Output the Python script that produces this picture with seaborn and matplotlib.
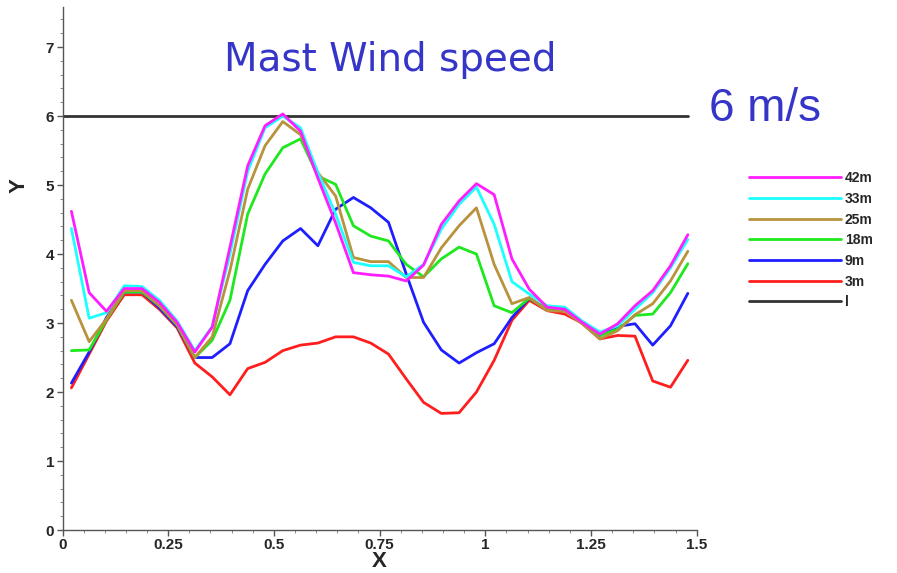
import numpy as np
import pandas as pd
import matplotlib
matplotlib.use("Agg")
import matplotlib.pyplot as plt
from matplotlib.ticker import MultipleLocator
import seaborn as sns

# Sample positions along the mast transect
x_pos = [0.021, 0.063, 0.104, 0.146, 0.188, 0.229, 0.271, 0.313, 0.354, 0.396,
         0.438, 0.479, 0.521, 0.563, 0.604, 0.646, 0.688, 0.729, 0.771, 0.813,
         0.854, 0.896, 0.938, 0.979, 1.021, 1.063, 1.104, 1.146, 1.188, 1.229,
         1.271, 1.313, 1.354, 1.396, 1.438, 1.479]

# Wind speed at each mast height
h42 = [4.62, 3.44, 3.17, 3.50, 3.50, 3.30, 3.01, 2.58, 2.94, 4.10, 5.28, 5.86,
       6.03, 5.78, 5.10, 4.45, 3.73, 3.70, 3.68, 3.61, 3.84, 4.43, 4.77, 5.02,
       4.86, 3.93, 3.49, 3.23, 3.20, 3.01, 2.84, 2.99, 3.25, 3.47, 3.83, 4.28]
h33 = [4.37, 3.07, 3.15, 3.54, 3.53, 3.33, 3.03, 2.60, 2.95, 4.00, 5.20, 5.83,
       6.00, 5.83, 5.18, 4.58, 3.88, 3.83, 3.83, 3.67, 3.85, 4.36, 4.72, 4.97,
       4.43, 3.60, 3.42, 3.25, 3.23, 3.03, 2.87, 2.96, 3.20, 3.44, 3.80, 4.21]
h25 = [3.33, 2.73, 3.06, 3.47, 3.47, 3.25, 2.98, 2.50, 2.80, 3.76, 4.94, 5.57,
       5.92, 5.73, 5.18, 4.84, 3.95, 3.89, 3.89, 3.66, 3.66, 4.09, 4.41, 4.67,
       3.85, 3.28, 3.37, 3.18, 3.17, 2.99, 2.77, 2.89, 3.12, 3.28, 3.61, 4.04]
h18 = [2.60, 2.61, 3.05, 3.45, 3.45, 3.25, 2.97, 2.50, 2.75, 3.33, 4.58, 5.16,
       5.54, 5.67, 5.13, 5.01, 4.41, 4.26, 4.19, 3.85, 3.67, 3.93, 4.10, 4.00,
       3.25, 3.15, 3.36, 3.20, 3.19, 3.01, 2.82, 2.91, 3.11, 3.13, 3.44, 3.86]
h9 = [2.13, 2.58, 3.08, 3.45, 3.45, 3.22, 2.95, 2.50, 2.50, 2.70, 3.47, 3.85,
      4.19, 4.37, 4.12, 4.65, 4.82, 4.67, 4.46, 3.71, 3.01, 2.61, 2.42, 2.57,
      2.70, 3.08, 3.36, 3.20, 3.19, 3.00, 2.82, 2.95, 2.99, 2.68, 2.96, 3.43]
h3 = [2.06, 2.55, 3.03, 3.41, 3.41, 3.20, 2.93, 2.42, 2.22, 1.96, 2.34, 2.43,
      2.60, 2.68, 2.71, 2.80, 2.80, 2.71, 2.55, 2.19, 1.85, 1.69, 1.70, 2.00,
      2.46, 3.04, 3.33, 3.18, 3.13, 3.00, 2.77, 2.82, 2.81, 2.16, 2.07, 2.46]

# Reference level line
ref_x = [0.0, 1.479]
ref_y = [6.0, 6.0]

labels = ["42m", "33m", "25m", "18m", "9m", "3m", "l"]
colors = ["#ff1cff", "#1cffff", "#b8923c", "#1ee81e", "#1e1eff", "#ff1e1e", "#333333"]

frames = []
for lab, vals in zip(labels[:-1], [h42, h33, h25, h18, h9, h3]):
    frames.append(pd.DataFrame({"X": x_pos, "Y": vals, "series": lab}))
frames.append(pd.DataFrame({"X": ref_x, "Y": ref_y, "series": "l"}))
df = pd.concat(frames, ignore_index=True)

sns.set_theme(style="white")
plt.rcParams["font.family"] = ["Liberation Sans Narrow", "Liberation Sans", "DejaVu Sans"]

fig = plt.figure(figsize=(8.97, 5.73), dpi=100)
ax = fig.add_axes([0.0697, 0.075, 0.707, 0.9127])

palette = dict(zip(labels, colors))
# draw lower levels first so the upper ones sit on top
for lab in ["l", "3m", "9m", "18m", "25m", "33m", "42m"]:
    sub = df[df["series"] == lab]
    sns.lineplot(data=sub, x="X", y="Y", color=palette[lab], lw=2.0,
                 sort=False, estimator=None, ax=ax, label=lab)

h, l = ax.get_legend_handles_labels()
lookup = dict(zip(l, h))
ax.legend([lookup[k] for k in labels], labels, loc="upper left",
          bbox_to_anchor=(0.821, 0.723), bbox_transform=fig.transFigure,
          frameon=False, handlelength=6.6, handletextpad=0.3,
          labelspacing=0.48, prop={"weight": "bold", "size": 10})

ax.set_xlim(0, 1.5)
ax.set_ylim(0, 7.58)
ax.xaxis.set_major_locator(MultipleLocator(0.25))
ax.yaxis.set_major_locator(MultipleLocator(1))
ax.yaxis.set_minor_locator(MultipleLocator(0.2))
ax.xaxis.set_minor_locator(MultipleLocator(0.05))
ax.xaxis.set_major_formatter(plt.FuncFormatter(lambda v, p: f"{v:g}"))

for s in ["top", "right"]:
    ax.spines[s].set_visible(False)
for s in ["left", "bottom"]:
    ax.spines[s].set_color("#555555")
    ax.spines[s].set_linewidth(1.0)

ax.tick_params(axis="both", which="major", direction="out", length=4, width=1,
               color="#555555", labelsize=11, pad=2, bottom=True, left=True)
ax.tick_params(axis="both", which="minor", direction="out", length=2, width=0.6,
               color="#777777", bottom=True, left=True)
for t in ax.get_xticklabels() + ax.get_yticklabels():
    t.set_fontweight("bold")

ax.set_xlabel("X", fontsize=16, fontweight="bold", labelpad=0)
ax.set_ylabel("Y", fontsize=16, fontweight="bold")
ax.yaxis.set_label_coords(-0.052, 0.658)
ax.xaxis.set_label_coords(0.499, -0.080)
ax.xaxis.label.set_va("bottom")
ax.grid(False)

fig.text(0.435, 0.895, "Mast Wind speed", color="#3535c8", fontsize=28,
         ha="center", va="center", family=["DejaVu Sans"])
fig.text(0.853, 0.81, "6 m/s", color="#3535c8", fontsize=33,
         ha="center", va="center", family=["Liberation Sans"])

fig.savefig("out.png", dpi=100)
